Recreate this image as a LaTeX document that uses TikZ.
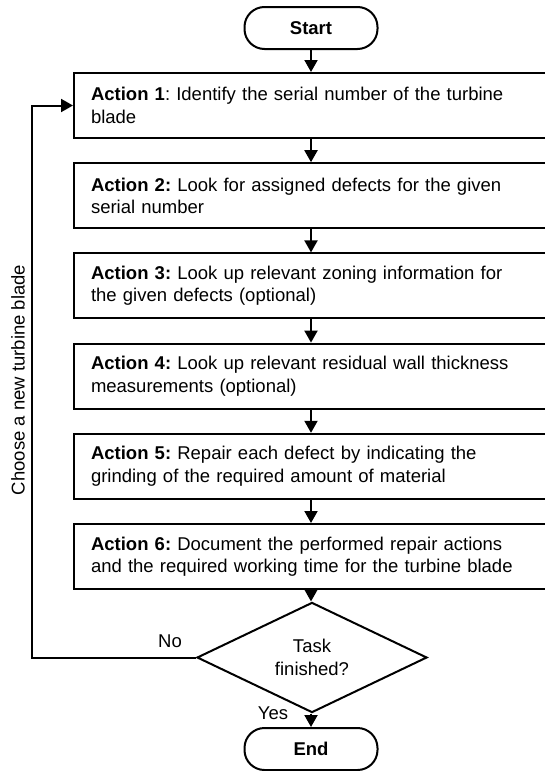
\documentclass[tikz,border=0pt]{standalone}
\usepackage{fontspec}
\setmainfont{Liberation Sans}
\usetikzlibrary{shapes.geometric,arrows.meta}
\frenchspacing
\tikzset{
  every node/.style={font=\fontsize{18.5pt}{22.5pt}\selectfont},
  actbox/.style={draw, line width=2pt, rectangle, minimum width=476pt, minimum height=65pt, text width=442pt, inner xsep=17pt, align=left},
  term/.style={draw, line width=2pt, rectangle, rounded corners=20pt, minimum width=133pt, minimum height=42pt, font=\fontsize{18.5pt}{22.5pt}\selectfont\bfseries},
  decision/.style={draw, line width=2pt, diamond, minimum width=230pt, minimum height=85pt, inner sep=0pt, align=center},
  arr/.style={line width=2pt, -{Triangle[length=12pt,width=13pt]}},
  lbl/.style={inner sep=0pt}
}
\begin{document}
\begin{tikzpicture}[x=1pt,y=1pt]
\useasboundingbox (0,0) rectangle (544,-771);
\node[term] (start) at (311,-28) {Start};
\node[actbox] (b1) at (312,-105.5) {\textbf{Action 1}: Identify the serial number of the turbine\\blade};
\node[actbox] (b2) at (312,-195.7) {\textbf{Action 2:} Look for assigned defects for the given\\serial number};
\node[actbox] (b3) at (312,-285.9) {\textbf{Action 3:} Look up relevant zoning information for\\the given defects (optional)};
\node[actbox] (b4) at (312,-376.1) {\textbf{Action 4:} Look up relevant residual wall thickness\\measurements (optional)};
\node[actbox] (b5) at (312,-466.3) {\textbf{Action 5:} Repair each defect by indicating the\\grinding of the required amount of material};
\node[actbox] (b6) at (312,-556.5) {\textbf{Action 6:} Document the performed repair actions\\and the required working time for the turbine blade};
\node[decision] (dec) at (312,-657.5) {Task\\finished?};
\node[term] (end) at (311,-749) {End};
\coordinate (lc) at (32,-657.5);
\draw[arr] (start |- start.south) -- (start |- b1.north);
\draw[arr] (start |- b1.south) -- (start |- b2.north);
\draw[arr] (start |- b2.south) -- (start |- b3.north);
\draw[arr] (start |- b3.south) -- (start |- b4.north);
\draw[arr] (start |- b4.south) -- (start |- b5.north);
\draw[arr] (start |- b5.south) -- (start |- b6.north);
\draw[arr] (start |- b6.south) -- (start |- dec.north);
\draw[arr] (start |- dec.south) -- (start |- end.north);
\draw[arr] (dec.west) -- (lc) -- (lc |- b1.west) -- (b1.west);
\node[lbl] (no) at (170,-641) {No};
\node[lbl] (yes) at (273,-713) {Yes};
\node[lbl, rotate=90] (choose) at (18,-380) {Choose a new turbine blade};
\end{tikzpicture}
\end{document}
